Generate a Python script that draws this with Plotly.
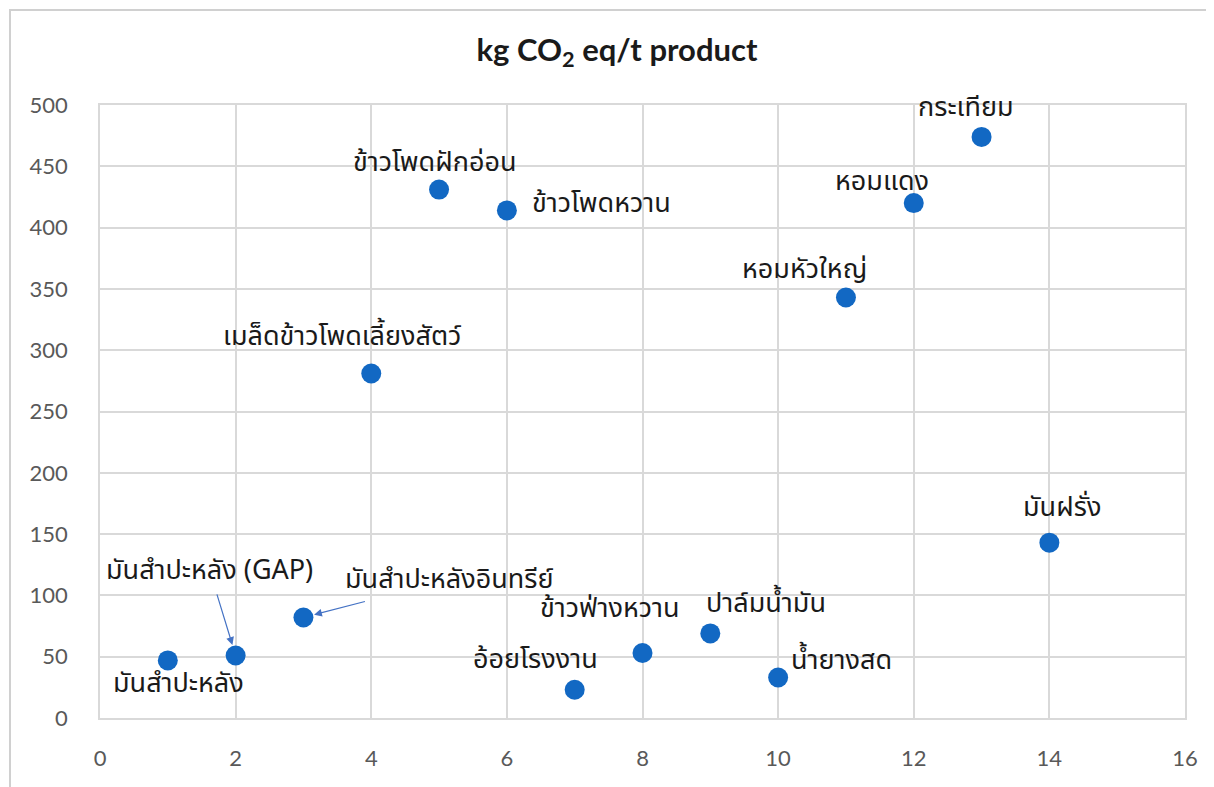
import plotly.graph_objects as go

# Data
labels = ["มันสำปะหลัง", "มันสำปะหลัง (GAP)", "มันสำปะหลังอินทรีย์",
          "เมล็ดข้าวโพดเลี้ยงสัตว์", "ข้าวโพดฝักอ่อน", "ข้าวโพดหวาน",
          "อ้อยโรงงาน", "ข้าวฟ่างหวาน", "ปาล์มน้ำมัน", "น้ำยางสด",
          "หอมหัวใหญ่", "หอมแดง", "กระเทียม", "มันฝรั่ง"]
x_vals = [1, 2, 3, 4, 5, 6, 7, 8, 9, 10, 11, 12, 13, 14]
y_vals = [47, 51, 82, 281, 431, 414, 23, 53, 69, 33, 343, 420, 474, 143]
x_ticks = [0, 2, 4, 6, 8, 10, 12, 14, 16]
y_ticks = [0, 50, 100, 150, 200, 250, 300, 350, 400, 450, 500]

# label offsets from the marker in pixels (xshift, yshift)
label_offsets = [(11, -23), (-26, 85), (146, 38), (-29, 37), (-4, 27), (95, 7),
                 (-39, 30), (-33, 45), (56, 30), (63, 17), (-41, 28), (-32, 22),
                 (-16, 29), (13, 35)]
# labels drawn with a pointer arrow: index -> start standoff (px)
arrow_labels = {1: 2, 2: 0}

OFF = 8  # page body margin
W, H = 1214 - OFF, 787 - OFF
ML, MR, MT, MB = 100 - OFF, 29, 105 - OFF, 69
PW, PH = W - ML - MR, H - MT - MB

def px(xi):
    return (xi - OFF - ML) / PW

def py(yi):
    return (H - MB - (yi - OFF)) / PH

thai_font = "Noto Sans Thai, Noto Sans, DejaVu Sans, sans-serif"
num_font = "Lato, Open Sans, sans-serif"
LABEL_SIZE = 27

fig = go.Figure()
fig.add_trace(go.Scatter(
    x=x_vals, y=y_vals, mode="markers",
    marker=dict(size=20, color="#1268C3"),
    hoverinfo="text", text=labels, showlegend=False,
))

annotations = []
for i, (lab, xv, yv) in enumerate(zip(labels, x_vals, y_vals)):
    dx, dy = label_offsets[i]
    if i in arrow_labels:
        annotations.append(dict(
            x=xv, y=yv, xref="x", yref="y", text=lab, showarrow=True,
            ax=dx, ay=-dy, axref="pixel", ayref="pixel",
            arrowhead=2, arrowsize=1.3, arrowwidth=1.2, arrowcolor="#4472C4",
            standoff=11, startstandoff=arrow_labels[i],
            font=dict(size=LABEL_SIZE, color="#1a1a1a", family=thai_font),
        ))
    else:
        annotations.append(dict(
            x=xv, y=yv, xref="x", yref="y", text=lab, showarrow=False,
            xshift=dx, yshift=dy,
            font=dict(size=LABEL_SIZE, color="#1a1a1a", family=thai_font),
            xanchor="center", yanchor="middle",
        ))

shapes = [
    # chart frame
    dict(type="rect", xref="paper", yref="paper",
         x0=px(10), y0=py(820), x1=px(1240), y1=py(10),
         line=dict(color="#d0d0d0", width=2), fillcolor="rgba(0,0,0,0)", layer="below"),
]

fig.update_layout(
    width=W, height=H,
    margin=dict(l=ML, r=MR, t=MT, b=MB, pad=0),
    paper_bgcolor="white", plot_bgcolor="white",
    title=dict(text="<b>kg CO<sub>2</sub> eq/t product</b>",
               x=(617 - OFF) / W, xref="container",
               y=1 - (50 - OFF) / H, yref="container",
               yanchor="middle", xanchor="center",
               font=dict(size=31, color="#1a1a1a", family=num_font)),
    xaxis=dict(range=[0, 16], tickvals=x_ticks, showgrid=True, gridcolor="#d9d9d9",
               gridwidth=1.5, zeroline=False, showline=True, mirror=True,
               linecolor="#d9d9d9", linewidth=1.5, ticks="",
               tickfont=dict(size=22, color="#595959", family=num_font),
               ticklabelstandoff=20),
    yaxis=dict(range=[0, 500], tickvals=y_ticks, showgrid=True, gridcolor="#d9d9d9",
               gridwidth=1.5, zeroline=False, showline=True, mirror=True,
               linecolor="#d9d9d9", linewidth=1.5, ticks="",
               tickfont=dict(size=22, color="#595959", family=num_font),
               ticklabelstandoff=26),
    annotations=annotations,
    shapes=shapes,
)

fig.write_html("out.html")
